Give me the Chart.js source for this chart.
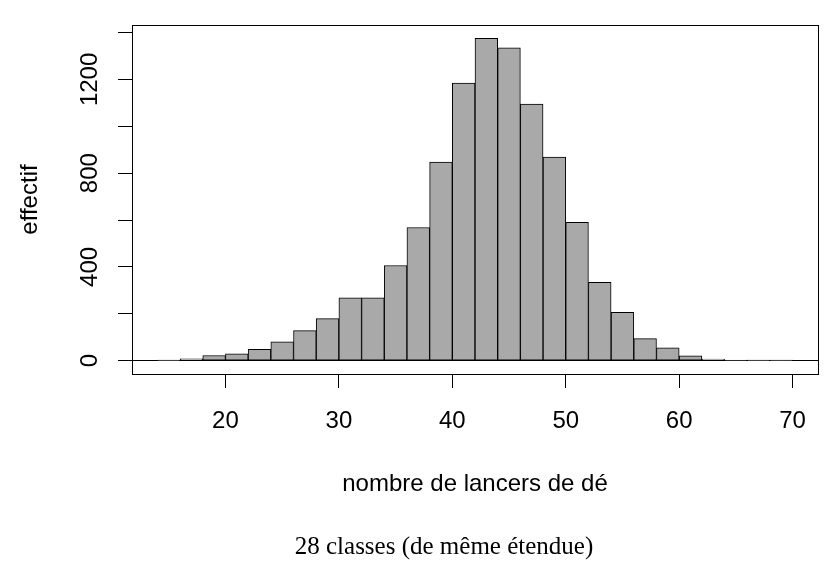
<!DOCTYPE html>
<html>
<head>
<meta charset="utf-8">
<script src="https://cdn.jsdelivr.net/npm/chart.js@4"></script>
<style>
  html, body { margin: 0; padding: 0; background: #fff; }
  #wrap { width: 833px; height: 568px; position: relative; }
</style>
</head>
<body>
<div id="wrap"><canvas id="histChart"></canvas></div>
<script>
// Histogram: 28 classes of width 2, from 14 to 70
const binCenters = [15, 17, 19, 21, 23, 25, 27, 29, 31, 33, 35, 37, 39, 41,
                    43, 45, 47, 49, 51, 53, 55, 57, 59, 61, 63, 65, 67, 69];
const counts = [1, 8, 22, 29, 48, 80, 128, 179, 268, 268, 406, 568, 847, 1184,
                1375, 1335, 1095, 869, 590, 334, 206, 94, 55, 20, 7, 2, 1, 1];
const xTicks = [20, 30, 40, 50, 60, 70];
const yTicks = [0, 200, 400, 600, 800, 1000, 1200, 1400];
const yLabels = [0, 400, 800, 1200];

const sansFont = "'Liberation Sans', Arial, sans-serif";
const serifFont = "'Liberation Serif', 'Times New Roman', serif";

// Box around the plot region, rotated y labels and the sub caption
const rFramePlugin = {
    id: 'rFrame',
    afterDraw(chart) {
        const { ctx, chartArea: a } = chart;
        const yScale = chart.scales.y;
        ctx.save();
        ctx.strokeStyle = '#000';
        ctx.lineWidth = 1;
        ctx.strokeRect(a.left + 0.5, a.top + 0.5, a.right - a.left, a.bottom - a.top);

        ctx.fillStyle = '#000';
        ctx.font = '24px ' + sansFont;
        ctx.textAlign = 'center';
        ctx.textBaseline = 'middle';
        yLabels.forEach(v => {
            ctx.save();
            ctx.translate(90, yScale.getPixelForValue(v));
            ctx.rotate(-Math.PI / 2);
            ctx.fillText(String(v), 0, 0);
            ctx.restore();
        });

        ctx.font = '25px ' + serifFont;
        ctx.fillText('28 classes (de même étendue)', 444, 547);
        ctx.restore();
    }
};

new Chart(document.getElementById('histChart'), {
    type: 'bar',
    data: {
        datasets: [{
            data: binCenters.map((c, i) => ({ x: c, y: counts[i] })),
            backgroundColor: '#a9a9a9',
            borderColor: '#000',
            borderWidth: 1,
            borderSkipped: false,
            barPercentage: 1.0,
            categoryPercentage: 1.0
        }]
    },
    options: {
        responsive: true,
        maintainAspectRatio: false,
        animation: false,
        layout: { padding: { top: 25, right: 15, left: 0, bottom: 0 } },
        plugins: {
            legend: { display: false },
            tooltip: { enabled: false }
        },
        scales: {
            x: {
                type: 'linear',
                offset: false,
                min: 11.76,
                max: 72.24,
                afterBuildTicks: scale => { scale.ticks = xTicks.map(v => ({ value: v })); },
                afterFit: scale => { scale.height = 194; },
                border: { display: false },
                grid: { offset: false, drawOnChartArea: false, tickColor: '#000', tickLength: 14, lineWidth: 1 },
                ticks: { color: '#000', padding: 19, maxRotation: 0, font: { family: sansFont, size: 24 } },
                title: {
                    display: true,
                    text: 'nombre de lancers de dé',
                    color: '#000',
                    font: { family: sansFont, size: 24, lineHeight: 1 },
                    padding: { top: 0, bottom: 72 }
                }
            },
            y: {
                min: -57,
                max: 1432,
                afterBuildTicks: scale => { scale.ticks = yTicks.map(v => ({ value: v })); },
                afterFit: scale => { scale.width = 132; },
                border: { display: false },
                grid: {
                    color: ctx => (ctx.tick && ctx.tick.value === 0 ? '#000' : 'rgba(0,0,0,0)'),
                    tickColor: '#000',
                    tickLength: 14,
                    lineWidth: 1
                },
                ticks: { display: false },
                title: {
                    display: true,
                    text: 'effectif',
                    color: '#000',
                    font: { family: sansFont, size: 24, lineHeight: 1 },
                    padding: { top: 18, bottom: 0 }
                }
            }
        }
    },
    plugins: [rFramePlugin]
});
</script>
</body>
</html>
